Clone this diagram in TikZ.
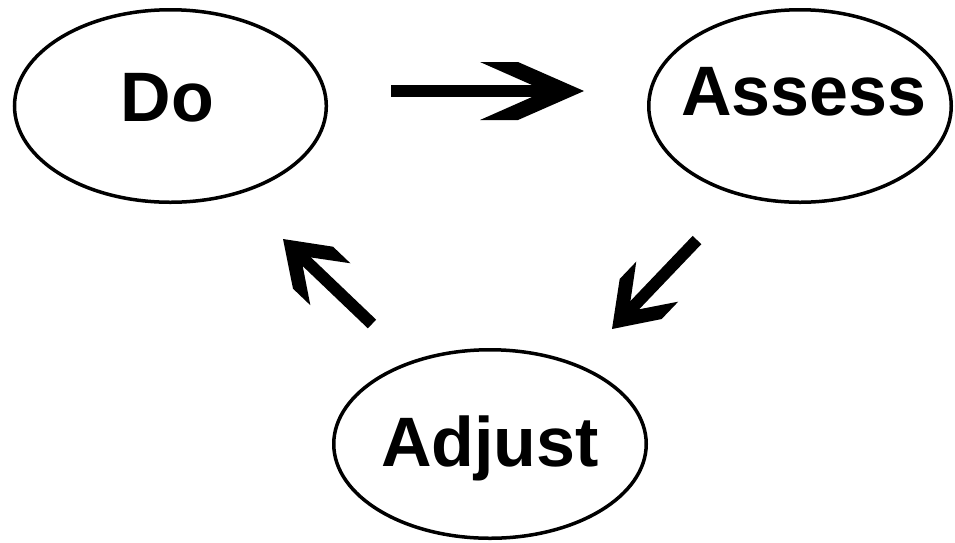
\documentclass[tikz,border=0pt]{standalone}
\usepackage{fontspec}
\setmainfont{Liberation Sans}
\usetikzlibrary{arrows.meta,shapes.geometric}

% Broad chevron head: filled arms with cuts parallel to the shaft
\pgfdeclarearrow{
  name = Chevron,
  setup code = {
    \pgfarrowssettipend{0pt}
    \pgfarrowssetbackend{-104pt}
    \pgfarrowssetlineend{-48pt}
    \pgfarrowsupperhullpoint{-104pt}{29pt}
    \pgfarrowsupperhullpoint{0pt}{0pt}
  },
  drawing code = {
    \pgfpathmoveto{\pgfqpoint{0pt}{0pt}}
    \pgfpathlineto{\pgfqpoint{-66pt}{29pt}}
    \pgfpathlineto{\pgfqpoint{-104pt}{29pt}}
    \pgfpathlineto{\pgfqpoint{-52pt}{6pt}}
    \pgfpathlineto{\pgfqpoint{-52pt}{-6pt}}
    \pgfpathlineto{\pgfqpoint{-104pt}{-29pt}}
    \pgfpathlineto{\pgfqpoint{-66pt}{-29pt}}
    \pgfpathclose
    \pgfusepathqfill
  }
}

% Same head, compressed along the shaft
\pgfdeclarearrow{
  name = ChevronShort,
  setup code = {
    \pgfarrowssettipend{0pt}
    \pgfarrowssetbackend{-65.5pt}
    \pgfarrowssetlineend{-30pt}
    \pgfarrowsupperhullpoint{-65.5pt}{29pt}
    \pgfarrowsupperhullpoint{0pt}{0pt}
  },
  drawing code = {
    \pgfpathmoveto{\pgfqpoint{0pt}{0pt}}
    \pgfpathlineto{\pgfqpoint{-41.5pt}{29pt}}
    \pgfpathlineto{\pgfqpoint{-65.5pt}{29pt}}
    \pgfpathlineto{\pgfqpoint{-33pt}{6pt}}
    \pgfpathlineto{\pgfqpoint{-33pt}{-6pt}}
    \pgfpathlineto{\pgfqpoint{-65.5pt}{-29pt}}
    \pgfpathlineto{\pgfqpoint{-41.5pt}{-29pt}}
    \pgfpathclose
    \pgfusepathqfill
  }
}

\begin{document}
\begin{tikzpicture}[x=1pt, y=-1pt,
  bubble/.style={draw=black, line width=3.5pt, ellipse, inner sep=0pt},
  % box height equals the cap height, so the label centre sits mid-capitals
  word/.style={font=\bfseries\fontsize{70}{84}\selectfont, inner sep=0pt,
               text height=50pt, text depth=0pt},
  flow/.style={line width=12pt, -{Chevron}},
  flowshort/.style={line width=12pt, -{ChevronShort}}]
\useasboundingbox (0,0) rectangle (955,542);

\node[bubble, minimum width=311.8pt, minimum height=192.5pt,
      label={[word, xshift=-3pt, yshift=10pt]center:Do}] (do) at (170.4,106) {};
\node[bubble, minimum width=302.5pt, minimum height=192.5pt,
      label={[word, xshift=4pt, yshift=16pt]center:Assess}] (assess) at (800,106) {};
\node[bubble, minimum width=312.5pt, minimum height=188.5pt,
      label={[word, yshift=3pt]center:Adjust}] (adjust) at (490,444) {};

\draw[flow] ([shift={(220.6,-15)}]do.center) -- ([shift={(-216,-15)}]assess.center);
\draw[flowshort] ([shift={(-103,134)}]assess.center) -- ([shift={(122,-115)}]adjust.center);
\draw[flowshort] ([shift={(-118,-120)}]adjust.center) -- ([shift={(112.6,133)}]do.center);
\end{tikzpicture}
\end{document}
